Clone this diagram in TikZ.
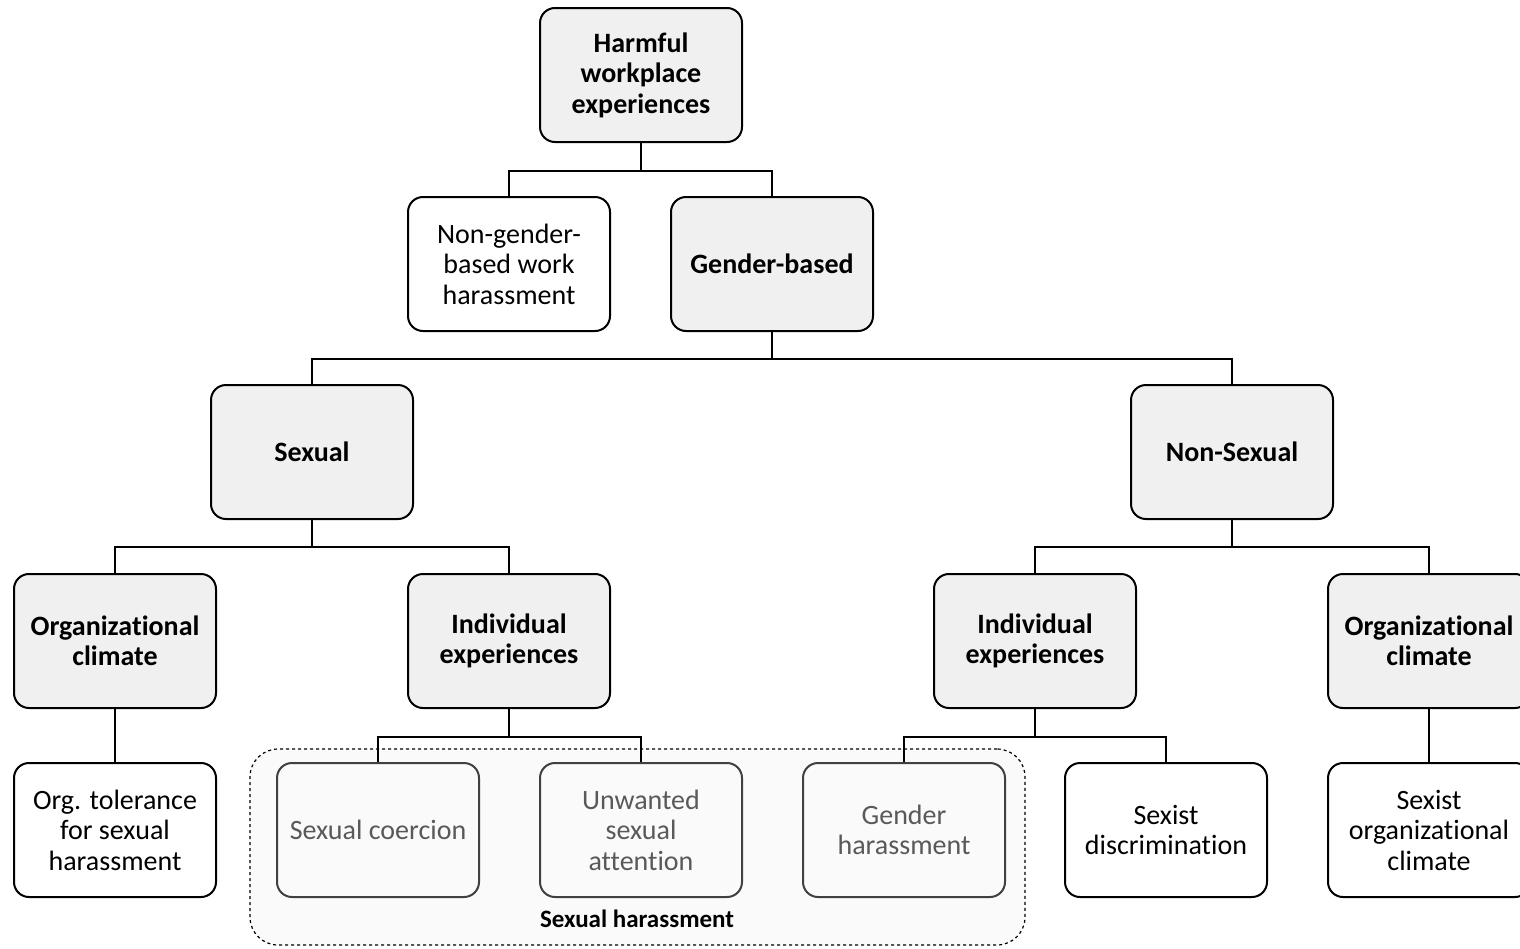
\documentclass[tikz,border=0pt]{standalone}
\usepackage{fontspec}
\setmainfont[RawFeature={-liga;-calt;-clig;-dlig}]{Carlito}
\definecolor{boxgray}{HTML}{F0F0F0}
\definecolor{grpfill}{HTML}{FAFAFA}
\definecolor{grptext}{HTML}{595959}
\definecolor{grpline}{HTML}{404040}
\tikzset{
  base/.style={draw=black, line width=2pt, rounded corners=15pt, minimum width=202pt, minimum height=134pt, align=center, inner sep=2pt,
    font=\fontsize{28}{30.5}\selectfont},
  cat/.style={base, fill=boxgray, font=\fontsize{28}{30.5}\selectfont\bfseries},
  leaf/.style={base, fill=white},
  grp/.style={base, fill=grpfill, draw=grpline, text=grptext},
  link/.style={draw=black, line width=2pt}
}
\begin{document}
\begin{tikzpicture}[x=1pt,y=-1pt]
\useasboundingbox (0,0) rectangle (1520,948);
% group background
\node[draw=black, dashed, line width=1.2pt, rounded corners=28pt, fill=grpfill, minimum width=775pt, minimum height=196pt, inner sep=0pt] (shgroup) at (637.5,847) {};
\node[font=\fontsize{25}{28}\selectfont\bfseries] (shlabel) at (637,919) {Sexual harassment};

\node[cat] (root) at (641,75) {Harmful\\workplace\\experiences};
\node[leaf] (nongb) at (509,264) {Non-gender-\\based work\\harassment};
\node[cat] (gb) at (772,264) {Gender-based};
\node[cat] (sex) at (312,452) {Sexual};
\node[cat] (nonsex) at (1232,452) {Non-Sexual};
\node[cat] (orgL) at (115,641) {Organizational\\climate};
\node[cat] (indL) at (509,641) {Individual\\experiences};
\node[cat] (indR) at (1035,641) {Individual\\experiences};
\node[cat] (orgR) at (1429,641) {Organizational\\climate};
\node[leaf] (tol) at (115,830) {Org. tolerance\\for sexual\\harassment};
\node[grp] (coer) at (378,830) {Sexual coercion};
\node[grp] (unw) at (641,830) {Unwanted\\sexual\\attention};
\node[grp] (gh) at (904,830) {Gender\\harassment};
\node[leaf] (sd) at (1166,830) {Sexist\\discrimination};
\node[leaf] (soc) at (1429,830) {Sexist\\organizational\\climate};

\draw[link] (root.south) -- ++(0,28) -| (nongb.north);
\draw[link] (root.south) ++(0,28) -| (gb.north);
\draw[link] (gb.south) -- ++(0,27) -| (sex.north);
\draw[link] (gb.south) ++(0,27) -| (nonsex.north);
\draw[link] (sex.south) -- ++(0,27) -| (orgL.north);
\draw[link] (sex.south) ++(0,27) -| (indL.north);
\draw[link] (nonsex.south) -- ++(0,27) -| (indR.north);
\draw[link] (nonsex.south) ++(0,27) -| (orgR.north);
\draw[link] (orgL.south) -- (tol.north);
\draw[link] (orgR.south) -- (soc.north);
\draw[link] (indL.south) -- ++(0,28) -| (coer.north);
\draw[link] (indL.south) ++(0,28) -| (unw.north);
\draw[link] (indR.south) -- ++(0,28) -| (gh.north);
\draw[link] (indR.south) ++(0,28) -| (sd.north);
\end{tikzpicture}
\end{document}
